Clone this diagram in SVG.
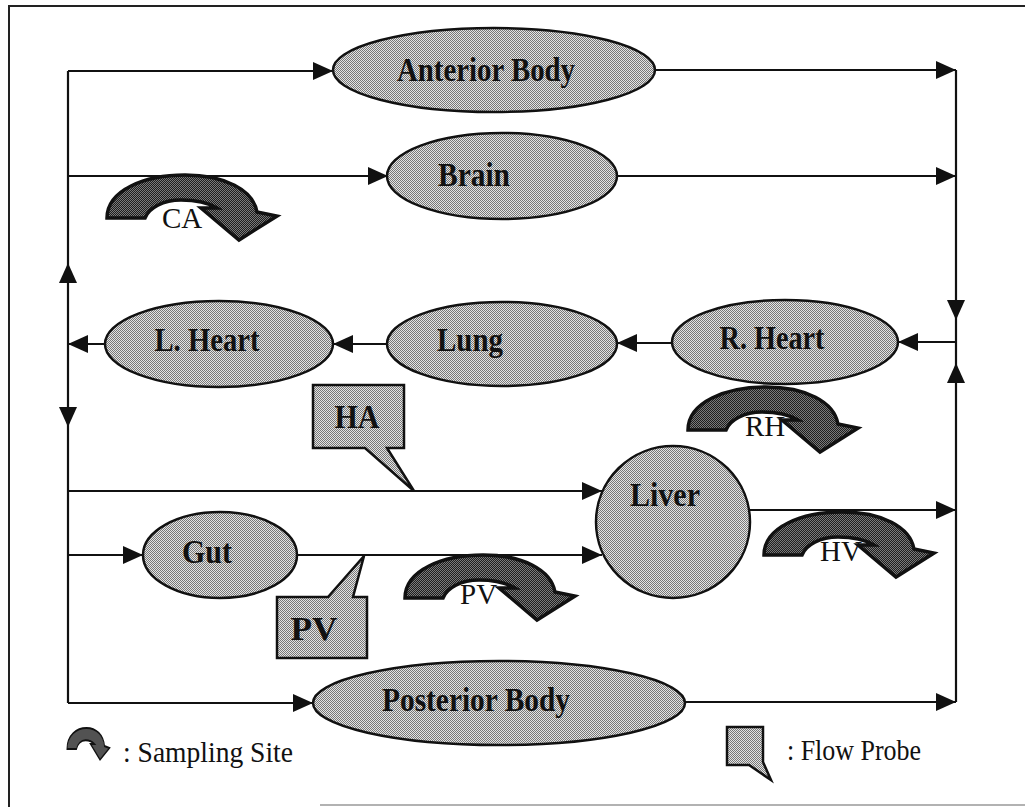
<svg xmlns="http://www.w3.org/2000/svg" width="1025" height="807" viewBox="0 0 1025 807">
<defs>
<pattern id="lightStip" width="2" height="2" patternUnits="userSpaceOnUse">
<rect width="2" height="2" fill="#e4e4e4"/>
<rect width="1" height="1" fill="#787878"/>
<rect x="1" y="1" width="1" height="1" fill="#787878"/>
</pattern>
<pattern id="darkStip" width="2" height="2" patternUnits="userSpaceOnUse">
<rect width="2" height="2" fill="#7a7a7a"/>
<rect width="1" height="1" fill="#1e1e1e"/>
<rect x="1" y="1" width="1" height="1" fill="#1e1e1e"/>
</pattern>
<marker id="arr" viewBox="0 0 20 18" refX="20" refY="9" markerWidth="20" markerHeight="18" markerUnits="userSpaceOnUse" orient="auto">
<path d="M0,0 L20,9 L0,18 Z" fill="#111"/>
</marker>
<path id="ah" d="M0,0 L-20,-9 L-20,9 Z" fill="#111"/>
<path id="samp" d="M-78,0 C-78,-28 -40,-43 0,-43 C40,-43 68,-28 72,-6 L92,-2 L54,22 L16,-10 L32,-10 C22,-16 10,-18 -4,-18 C-22,-18 -36,-10 -40,0 Z"/>
</defs>
<style>
.frame{fill:none;stroke:#222;stroke-width:2}
.conn{fill:none;stroke:#111;stroke-width:2.2}
.node{fill:url(#lightStip);stroke:#111;stroke-width:2.5}
.site{fill:url(#darkStip);stroke:#111;stroke-width:3.5}
.lbl{font-family:"Liberation Serif","Times New Roman",serif;font-weight:bold;font-size:33px;text-anchor:middle;fill:#111}
.slbl{font-family:"Liberation Serif","Times New Roman",serif;font-size:29px;fill:#111}
.leg{font-family:"Liberation Serif","Times New Roman",serif;font-size:29px;fill:#111}
</style>
<rect width="1025" height="807" fill="#fff"/>
<g id="frame">
<path class="frame" d="M9,807 V6 H1025"/>
<path d="M320,805 H1025" fill="none" stroke="#999" stroke-width="1.5"/>
</g>
<g id="connectors">
<path class="conn" d="M68,71 V703"/>
<path class="conn" d="M956,70 V702"/>
<path class="conn" d="M68,71 H333" marker-end="url(#arr)"/>
<path class="conn" d="M655,70 H956" marker-end="url(#arr)"/>
<path class="conn" d="M68,176 H388" marker-end="url(#arr)"/>
<path class="conn" d="M617,176 H956" marker-end="url(#arr)"/>
<path class="conn" d="M956,342 H898" marker-end="url(#arr)"/>
<path class="conn" d="M672,343 H617" marker-end="url(#arr)"/>
<path class="conn" d="M388,344 H333" marker-end="url(#arr)"/>
<path class="conn" d="M105,344 H68" marker-end="url(#arr)"/>
<path class="conn" d="M68,491 H602" marker-end="url(#arr)"/>
<path class="conn" d="M68,555 H143" marker-end="url(#arr)"/>
<path class="conn" d="M297,555 H602" marker-end="url(#arr)"/>
<path class="conn" d="M749,510 H956" marker-end="url(#arr)"/>
<path class="conn" d="M68,703 H313" marker-end="url(#arr)"/>
<path class="conn" d="M685,702 H956" marker-end="url(#arr)"/>
<use href="#ah" transform="translate(68,263) rotate(-90)"/>
<use href="#ah" transform="translate(68,427) rotate(90)"/>
<use href="#ah" transform="translate(956,320) rotate(90)"/>
<use href="#ah" transform="translate(956,363) rotate(-90)"/>
</g>
<g id="anterior-body">
<ellipse class="node" cx="494" cy="70" rx="161" ry="42"/>
<text class="lbl" x="486" y="81" textLength="178" lengthAdjust="spacingAndGlyphs">Anterior Body</text>
</g>
<g id="brain">
<ellipse class="node" cx="502" cy="176" rx="115" ry="43"/>
<text class="lbl" x="474" y="186" textLength="72" lengthAdjust="spacingAndGlyphs">Brain</text>
</g>
<g id="l-heart">
<ellipse class="node" cx="219" cy="344" rx="114" ry="43"/>
<text class="lbl" x="207" y="351" textLength="105" lengthAdjust="spacingAndGlyphs">L. Heart</text>
</g>
<g id="lung">
<ellipse class="node" cx="502" cy="344" rx="115" ry="42"/>
<text class="lbl" x="470" y="351" textLength="66" lengthAdjust="spacingAndGlyphs">Lung</text>
</g>
<g id="r-heart">
<ellipse class="node" cx="785" cy="342" rx="113" ry="42"/>
<text class="lbl" x="772" y="349" textLength="105" lengthAdjust="spacingAndGlyphs">R. Heart</text>
</g>
<g id="liver">
<ellipse class="node" cx="673" cy="522" rx="77" ry="76"/>
<text class="lbl" x="665" y="506" textLength="70" lengthAdjust="spacingAndGlyphs">Liver</text>
</g>
<g id="gut">
<ellipse class="node" cx="220" cy="555" rx="77" ry="43"/>
<text class="lbl" x="207" y="563" textLength="50" lengthAdjust="spacingAndGlyphs">Gut</text>
</g>
<g id="posterior-body">
<ellipse class="node" cx="499" cy="703" rx="186" ry="42"/>
<text class="lbl" x="476" y="711" textLength="188" lengthAdjust="spacingAndGlyphs">Posterior Body</text>
</g>
<g id="probe-ha">
<path class="node" d="M313,385 H404 V448 H387 L414,491 L365,448 H313 Z"/>
<text class="lbl" x="357" y="428" textLength="45" lengthAdjust="spacingAndGlyphs">HA</text>
</g>
<g id="probe-pv">
<path class="node" d="M277,597 H328 L364,556 L353,597 H367 V658 H277 Z"/>
<text class="lbl" x="314" y="640" textLength="47" lengthAdjust="spacingAndGlyphs">PV</text>
</g>
<g id="site-ca">
<use href="#samp" class="site" transform="translate(185,218)"/>
<text class="slbl" x="162" y="228">CA</text>
</g>
<g id="site-rh">
<use href="#samp" class="site" transform="translate(766,430)"/>
<text class="slbl" x="745" y="436">RH</text>
</g>
<g id="site-pv">
<use href="#samp" class="site" transform="translate(483,598)"/>
<text class="slbl" x="460" y="604">PV</text>
</g>
<g id="site-hv">
<use href="#samp" class="site" transform="translate(842,555)"/>
<text class="slbl" x="820" y="561">HV</text>
</g>
<g id="legend-sampling">
<use href="#samp" class="site" transform="translate(86.5,749) scale(0.25,0.49)" style="stroke-width:4"/>
<text class="leg" x="123" y="762" textLength="170" lengthAdjust="spacingAndGlyphs">: Sampling  Site</text>
</g>
<g id="legend-probe">
<path class="node" d="M727,727 H763 V762 L771,780 L749,765 H727 Z"/>
<text class="leg" x="787" y="760" textLength="134" lengthAdjust="spacingAndGlyphs">: Flow Probe</text>
</g>
</svg>
